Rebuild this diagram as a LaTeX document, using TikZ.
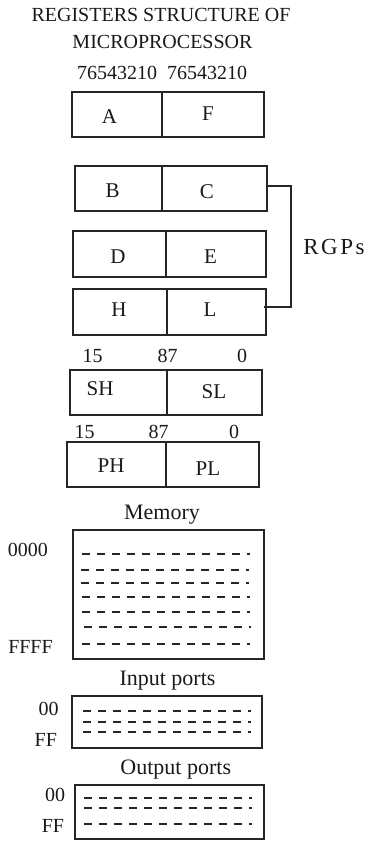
\documentclass[tikz,border=0pt]{standalone}
\usepackage{fontspec}
\setmainfont{Liberation Serif}
\begin{document}
\begin{tikzpicture}[x=1pt,y=-1pt,
  regframe/.style={draw=black!85, line width=1.4pt, inner sep=0pt},
  divider/.style={draw=black!85, line width=1.4pt},
  lbl/.style={anchor=base, inner sep=0pt, text=black!90, font=\fontsize{20}{24}\selectfont},
  reglbl/.style={anchor=base, inner sep=0pt, text=black!90, font=\fontsize{21}{25}\selectfont},
  caplbl/.style={anchor=base, inner sep=0pt, text=black!90, font=\fontsize{22}{26}\selectfont},
  dashrow/.style={draw=black!85, line width=2pt, dash pattern=on 8pt off 7pt},
  bracketline/.style={draw=black!85, line width=1.4pt}
]
\useasboundingbox (0,0) rectangle (368,841);

% title
\node[lbl] (t1) at (161,21.7) {REGISTERS STRUCTURE OF};
\node[lbl] (t2) at (162.5,48.3) {MICROPROCESSOR};
\node[lbl] (t3) at (162,79) {76543210\ \ 76543210};

% A F
\node[regframe, minimum width=192pt, minimum height=45pt] (af) at (168,114.5) {};
\draw[divider] (162,92) -- (162,137);
\node[reglbl] (ra) at (109.5,123) {A};
\node[reglbl] (rf) at (208,120.5) {F};

% B C
\node[regframe, minimum width=192pt, minimum height=45pt] (bc) at (171,188.5) {};
\draw[divider] (162,166) -- (162,211);
\node[reglbl] (rb) at (112.7,197.5) {B};
\node[reglbl] (rc) at (207,198.5) {C};

% D E
\node[regframe, minimum width=193pt, minimum height=46pt] (de) at (169.5,254) {};
\draw[divider] (166,231) -- (166,278);
\node[reglbl] (rd) at (118,263) {D};
\node[reglbl] (re) at (210.5,263) {E};

% H L
\node[regframe, minimum width=193pt, minimum height=46pt] (hl) at (169.5,312) {};
\draw[divider] (167,289) -- (167,335);
\node[reglbl] (rh) at (119,316.7) {H};
\node[reglbl] (rl) at (210,316.7) {L};

% RGPs bracket
\coordinate (hlend) at (264,307);
\draw[bracketline] (bc.east |- 0,186) -- (291,186) |- (hlend);
\node[anchor=base, inner sep=0pt, text=black!90, font=\fontsize{23}{27}\selectfont] (rgps) at (334,254) {R\kern2.5pt G\kern2.5pt P\kern2.5pt s};

% SH SL
\node[lbl] (s15) at (92.5,362) {15};
\node[lbl] (s87) at (167.5,362) {87};
\node[lbl] (s0) at (242,362) {0};
\node[regframe, minimum width=192pt, minimum height=45pt] (ss) at (166,392.5) {};
\draw[divider] (167,370) -- (167,415);
\node[reglbl] (rsh) at (100,395) {SH};
\node[reglbl] (rsl) at (214,398) {SL};

% PH PL
\node[lbl] (p15) at (84.5,438) {15};
\node[lbl] (p87) at (158.7,438) {87};
\node[lbl] (p0) at (234,438) {0};
\node[regframe, minimum width=192pt, minimum height=45pt] (pp) at (163,464.5) {};
\draw[divider] (166,442) -- (166,487);
\node[reglbl] (rph) at (111,472) {PH};
\node[reglbl] (rpl) at (208,475.5) {PL};

% Memory
\node[caplbl] (mem) at (162,519) {Memory};
\node[regframe, minimum width=191pt, minimum height=129pt] (mbox) at (168.5,594.5) {};
\node[lbl] (m0) at (28,556.5) {0000};
\node[lbl] (mf) at (30.5,653) {FFFF};
\draw[dashrow] (82,554) -- (249.5,554);
\draw[dashrow] (81,570) -- (248.5,570);
\draw[dashrow] (81,583) -- (248.5,583);
\draw[dashrow] (82,597) -- (249.5,597);
\draw[dashrow] (82,612) -- (249.5,612);
\draw[dashrow] (83.5,627) -- (251,627);
\draw[dashrow] (82,644) -- (249.5,644);

% Input ports
\node[caplbl] (inp) at (167.5,685) {Input ports};
\node[regframe, minimum width=190pt, minimum height=52pt] (ibox) at (167,722) {};
\node[lbl] (i0) at (48.7,715.5) {00};
\node[lbl] (if) at (45.8,746.5) {FF};
\draw[dashrow] (83,711) -- (250.5,711);
\draw[dashrow] (83,722) -- (250.5,722);
\draw[dashrow] (83,732) -- (250.5,732);

% Output ports
\node[caplbl] (outp) at (175.8,774) {Output ports};
\node[regframe, minimum width=189pt, minimum height=54pt] (obox) at (169.5,812) {};
\node[lbl] (o0) at (55,801.5) {00};
\node[lbl] (of) at (53,832.5) {FF};
\draw[dashrow] (84,798) -- (251.5,798);
\draw[dashrow] (84,808) -- (251.5,808);
\draw[dashrow] (84,824) -- (251.5,824);
\end{tikzpicture}
\end{document}
